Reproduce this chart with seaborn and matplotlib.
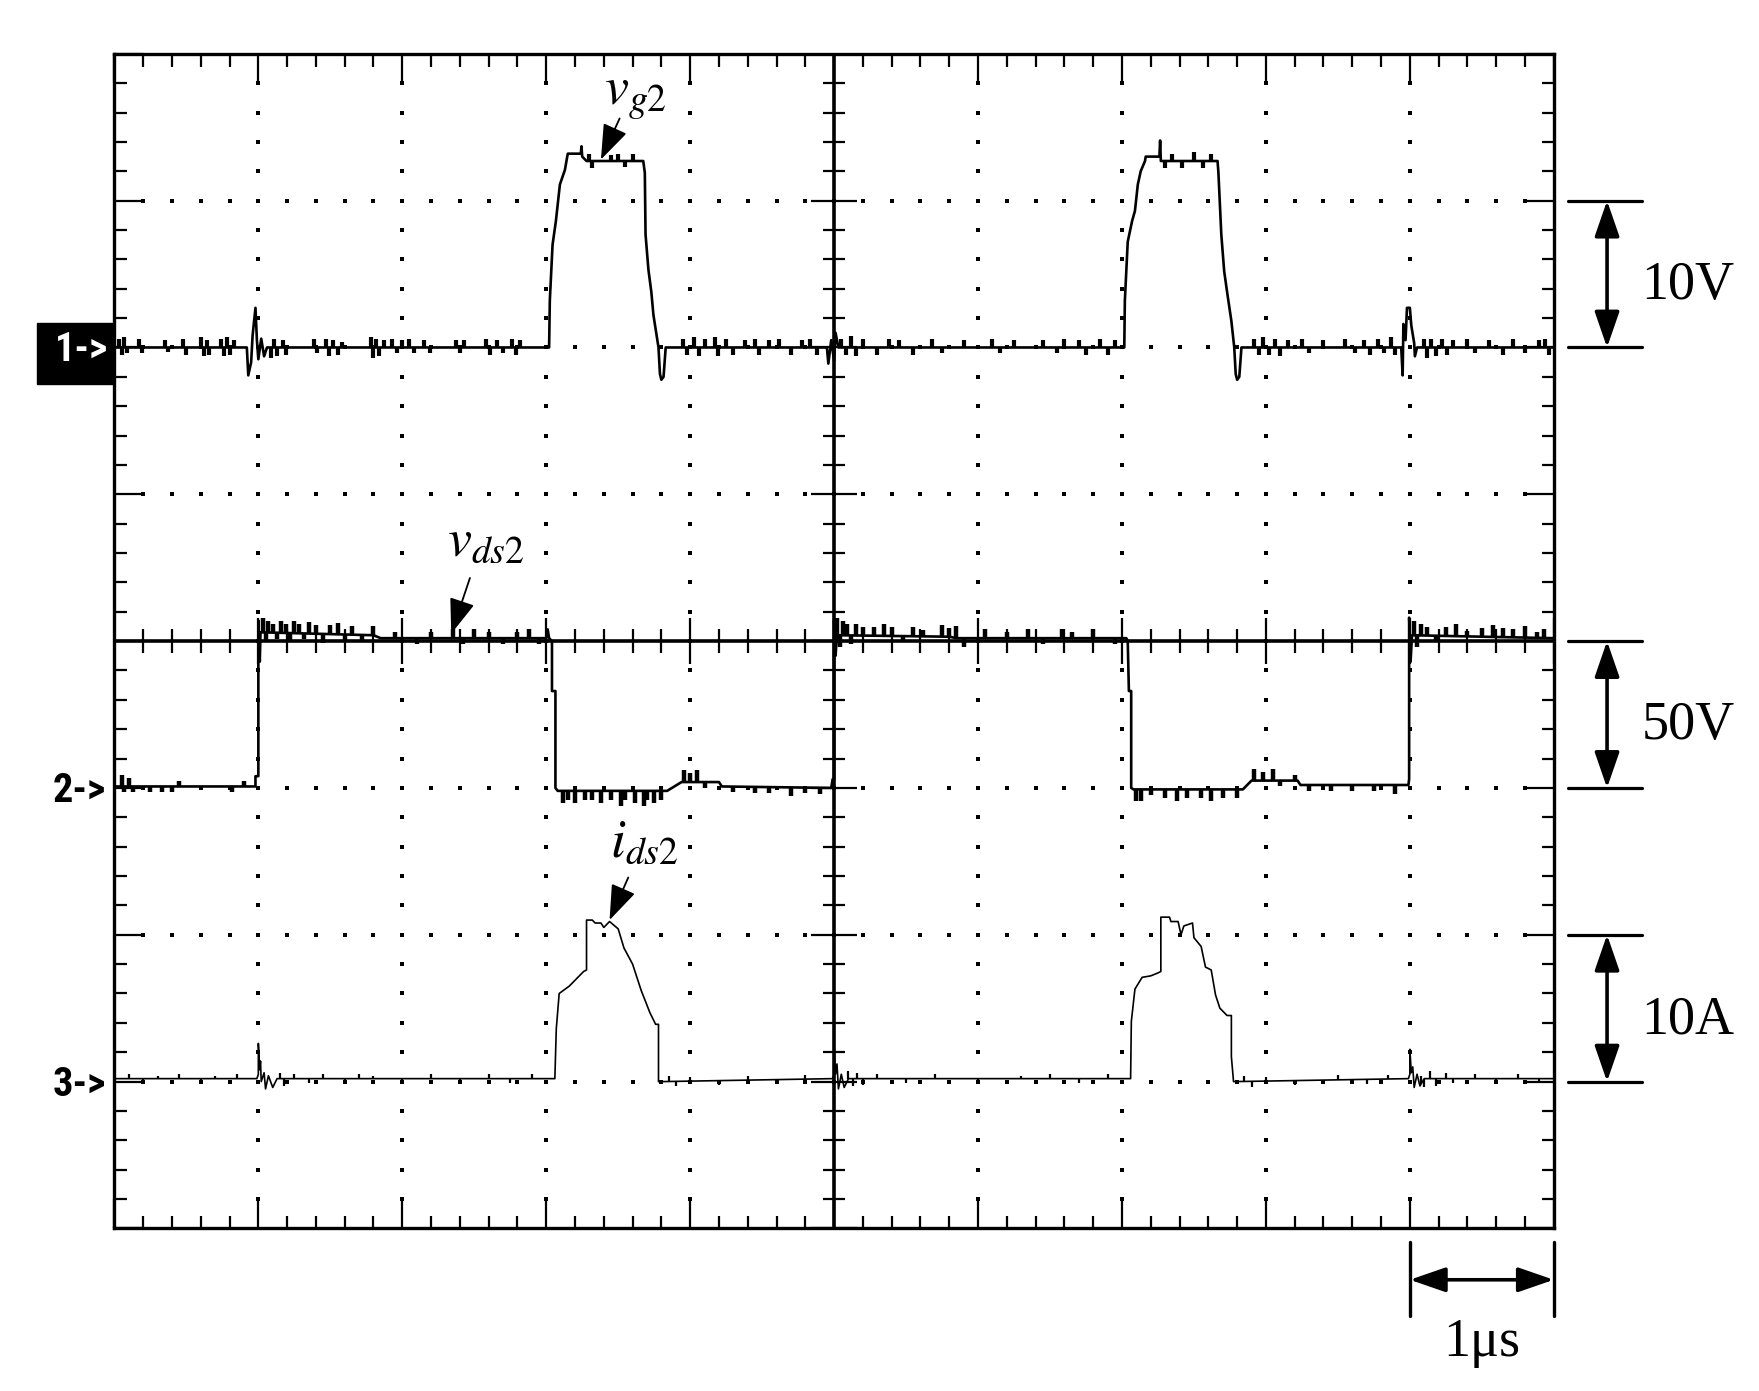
import numpy as np
import pandas as pd
import matplotlib
matplotlib.use("Agg")
import matplotlib.pyplot as plt
from matplotlib.patches import Rectangle
from matplotlib import font_manager
import seaborn as sns

# ---------------- data (time in us, 1 us/div) ----------------
# channel 1: gate voltage v_g2 (V), 10 V/div, ground at division 6
vg_points = [
    (0.00, 0.0), (0.92, 0.0), (0.93, -1.9), (0.95, -1.0), (0.96, 0.8), (0.98, 2.7), (0.99, 0.5),
    (1.00, -0.8), (1.02, 0.6), (1.04, -0.6), (1.06, 0.0),
    (3.02, 0.0), (3.025, 3.2), (3.044, 7.0), (3.067, 8.6), (3.095, 11.1), (3.13, 12.1), (3.146, 13.0),
    (3.15, 13.2), (3.24, 13.2), (3.245, 13.7), (3.25, 13.0), (3.28, 12.7), (3.674, 12.7), (3.685, 11.9),
    (3.69, 7.7), (3.71, 5.3), (3.73, 3.8), (3.745, 2.2), (3.78, 0.0), (3.79, -1.8), (3.80, -2.2),
    (3.815, -2.0), (3.83, 0.0),
    (4.95, 0.0), (4.96, -1.1), (4.98, 0.5), (5.00, -0.9), (5.01, 1.0), (5.03, 0.0),
    (7.016, 0.0), (7.02, 3.2), (7.04, 7.2), (7.07, 8.6), (7.09, 9.3), (7.11, 11.1), (7.13, 12.0),
    (7.16, 12.7), (7.165, 13.0), (7.26, 13.0), (7.265, 14.1), (7.27, 12.7), (7.664, 12.7), (7.67, 11.9),
    (7.69, 7.7), (7.71, 5.2), (7.73, 3.8), (7.76, 1.8), (7.78, 0.0), (7.79, -1.8), (7.80, -2.2),
    (7.815, -2.0), (7.83, 0.0),
    (8.94, 0.0), (8.95, -1.9), (8.955, 1.6), (8.97, 0.5), (8.98, 2.7), (9.00, 2.7), (9.01, 1.5),
    (9.03, 0.3), (9.035, -0.6), (9.05, 0.0), (10.00, 0.0),
]
vg_noise = [
    (0.03, 0.6), (0.05, -0.5), (0.07, 0.7), (0.09, -0.4), (0.17, 0.6), (0.19, -0.4), (0.35, 0.5),
    (0.37, -0.3), (0.48, 0.6), (0.50, -0.5), (0.60, 0.7), (0.62, -0.6), (0.64, 0.5), (0.66, -0.5),
    (0.74, 0.6), (0.76, -0.6), (0.78, 0.7), (0.80, -0.5), (0.83, 0.5),
    (1.09, -0.7), (1.11, 0.6), (1.13, -0.6), (1.17, 0.5), (1.19, -0.5), (1.39, 0.6), (1.41, -0.4),
    (1.47, 0.6), (1.49, -0.6), (1.52, 0.5), (1.55, -0.5), (1.58, 0.4),
    (1.78, 0.7), (1.80, -0.7), (1.82, 0.6), (1.84, -0.6), (1.87, 0.5), (1.93, 0.6), (1.96, -0.4),
    (2.00, 0.5), (2.05, 0.6), (2.08, -0.4), (2.15, 0.5), (2.19, -0.4),
    (2.37, 0.5), (2.40, -0.4), (2.43, 0.5), (2.58, 0.6), (2.61, -0.5), (2.66, 0.5), (2.70, -0.4),
    (2.76, 0.6), (2.79, -0.5), (2.82, 0.5),
    (3.30, 0.5), (3.32, -0.5), (3.45, 0.4), (3.50, 0.5), (3.55, -0.4), (3.60, 0.5),
    (3.95, 0.6), (3.98, -0.5), (4.03, 0.7), (4.06, -0.6), (4.10, 0.6), (4.17, 0.7), (4.19, -0.6),
    (4.25, 0.6), (4.30, -0.5), (4.38, 0.5), (4.45, 0.6), (4.48, -0.5), (4.55, 0.5), (4.62, 0.6),
    (4.70, -0.5), (4.78, 0.5), (4.83, 0.6), (4.88, -0.5),
    (5.05, 0.6), (5.08, -0.5), (5.12, 0.8), (5.15, -0.6), (5.20, 0.6), (5.30, -0.5), (5.38, 0.6),
    (5.45, 0.5), (5.55, -0.5), (5.68, 0.6), (5.75, -0.4), (5.90, 0.5), (6.10, 0.6), (6.15, -0.4),
    (6.25, 0.5), (6.45, 0.5), (6.55, -0.4), (6.60, 0.6), (6.70, 0.5), (6.75, -0.5), (6.85, 0.6),
    (6.90, -0.5), (6.95, 0.5),
    (7.30, -0.5), (7.35, 0.5), (7.42, -0.5), (7.50, 0.6), (7.56, -0.5), (7.62, 0.5),
    (7.92, 0.6), (7.95, -0.5), (7.98, 0.7), (8.02, -0.5), (8.06, 0.6), (8.10, -0.6), (8.15, 0.5),
    (8.25, 0.6), (8.30, -0.4), (8.40, 0.5), (8.55, 0.6), (8.62, -0.4), (8.68, 0.5), (8.72, -0.5),
    (8.78, 0.6), (8.82, -0.4), (8.87, 0.7), (8.90, -0.5),
    (9.10, 0.6), (9.12, -0.7), (9.15, 0.6), (9.18, -0.6), (9.22, 0.6), (9.26, -0.5), (9.30, 0.5),
    (9.40, 0.6), (9.45, -0.4), (9.55, 0.5), (9.65, -0.5), (9.72, 0.6), (9.80, -0.4), (9.90, 0.5),
    (9.94, 0.6), (9.97, -0.5),
]

# channel 2: drain-source voltage v_ds2 (V), 50 V/div, ground at division 3
vds_points = [
    (0.00, 0.5), (0.98, 0.5), (0.98, 4.0), (1.00, 4.0), (1.00, 57.0), (1.01, 43.0), (1.015, 53.0),
    (1.80, 52.0), (1.85, 51.0), (3.00, 51.0), (3.01, 54.0), (3.02, 51.0), (3.04, 50.0), (3.04, 33.0),
    (3.064, 33.0), (3.064, 0.0), (3.08, -1.0), (3.84, -1.0), (3.94, 2.0), (4.20, 2.0), (4.22, 0.5),
    (4.98, 0.0), (4.99, 3.0), (5.00, 3.0), (5.00, 57.0), (5.01, 45.0), (5.02, 52.0), (5.80, 51.5),
    (5.85, 51.0), (7.03, 51.0), (7.04, 50.0), (7.048, 33.0), (7.064, 33.0), (7.064, 0.0), (7.08, -0.5),
    (7.84, -0.5), (7.90, 2.5), (8.22, 2.5), (8.24, 1.0), (8.99, 1.0), (8.995, 3.0), (8.995, 58.0),
    (9.00, 50.0), (9.005, 43.0), (9.015, 52.0), (10.00, 51.0),
]
vds_noise = [
    (0.05, 4), (0.07, -2), (0.10, 3), (0.13, -2), (0.25, -2), (0.33, -2), (0.40, -2), (0.45, 2),
    (0.82, -2), (0.90, 2),
    (1.03, 5), (1.05, -3), (1.07, 4), (1.10, 3), (1.13, -2), (1.16, 4), (1.19, 3), (1.22, -3),
    (1.25, 4), (1.28, 3), (1.32, -2), (1.35, 4), (1.40, 3), (1.45, -3), (1.50, 3), (1.55, 4),
    (1.60, -2), (1.65, 3), (1.72, -2), (1.80, 3), (1.95, 2), (2.10, -2), (2.20, 2), (2.35, 3),
    (2.42, -2), (2.50, 3), (2.60, 2), (2.70, -2), (2.80, 2), (2.88, 3), (2.95, -2),
    (3.12, -4), (3.15, -3), (3.20, -4), (3.27, -3), (3.32, -3), (3.38, -4), (3.45, -3), (3.52, -5),
    (3.55, -3), (3.62, -4), (3.68, -5), (3.70, -3), (3.75, -4), (3.80, -3), (3.96, 4), (4.00, 3),
    (4.05, 4), (4.10, -2), (4.30, -2), (4.45, -2), (4.55, -2), (4.70, -3), (4.80, -2), (4.90, -2),
    (5.02, 6), (5.04, -4), (5.06, 5), (5.09, 4), (5.12, -3), (5.15, 4), (5.20, 3), (5.28, 3),
    (5.35, 4), (5.40, 3), (5.48, -2), (5.55, 3), (5.62, 2), (5.75, 4), (5.80, 3), (5.85, 4),
    (5.90, -3), (6.05, 3), (6.20, 2), (6.35, 3), (6.45, -2), (6.58, 3), (6.65, 2), (6.80, 3),
    (6.95, -2),
    (7.10, -4), (7.13, -4), (7.20, -2), (7.30, -3), (7.38, -4), (7.45, -3), (7.55, -3), (7.62, -4),
    (7.70, -3), (7.80, -3), (7.92, 4), (7.98, 3), (8.05, 4), (8.10, -2), (8.20, 2), (8.30, -2),
    (8.45, -2), (8.60, -2), (8.75, -2), (8.90, -3),
    (9.03, 5), (9.05, -4), (9.08, 4), (9.12, 3), (9.18, -2), (9.25, 3), (9.32, 4), (9.40, 2),
    (9.50, 3), (9.58, 4), (9.65, 3), (9.72, 3), (9.80, 4), (9.88, 2), (9.93, 3),
]

# channel 3: drain current i_ds2 (A), 10 A/div, ground at division 1
ids_points = [
    (0.00, 0.2), (0.99, 0.2), (1.00, 0.5), (1.00, 2.6), (1.01, 0.8), (1.015, 1.4), (1.02, 0.0),
    (1.04, 0.6), (1.05, -0.5), (1.07, 0.4), (1.10, -0.4), (1.13, 0.2),
    (3.06, 0.2), (3.07, 3.6), (3.09, 6.0), (3.16, 6.5), (3.26, 7.5), (3.28, 7.6), (3.28, 11.0),
    (3.32, 11.0), (3.34, 10.8), (3.38, 10.8), (3.40, 10.5), (3.44, 10.9), (3.50, 10.4), (3.54, 9.1),
    (3.60, 8.0), (3.66, 6.2), (3.72, 4.7), (3.76, 3.9), (3.78, 3.9), (3.78, 0.0), (3.82, 0.0),
    (4.99, 0.2), (5.00, 0.5), (5.00, 2.4), (5.01, 0.5), (5.02, 1.2), (5.03, -0.5), (5.05, 0.5),
    (5.07, -0.4), (5.10, 0.2),
    (7.06, 0.2), (7.065, 4.1), (7.09, 6.3), (7.14, 7.1), (7.20, 7.2), (7.25, 7.4), (7.27, 7.5),
    (7.27, 11.2), (7.33, 11.2), (7.34, 10.9), (7.39, 10.9), (7.41, 10.0), (7.43, 10.6), (7.49, 10.8),
    (7.50, 9.8), (7.55, 9.2), (7.58, 7.8), (7.62, 7.6), (7.65, 5.9), (7.68, 5.0), (7.73, 4.5),
    (7.76, 4.5), (7.76, 1.7), (7.775, 0.0), (7.80, 0.0),
    (8.99, 0.2), (9.00, 0.5), (9.00, 2.2), (9.01, 0.6), (9.02, 1.0), (9.03, -0.4), (9.05, 0.5),
    (9.07, -0.3), (9.10, 0.2), (10.00, 0.2),
]
ids_noise = [
    (0.10, 0.3), (0.20, -0.3), (0.30, 0.2), (0.45, 0.3), (0.60, -0.3), (0.70, 0.2), (0.85, 0.3),
    (1.15, 0.4), (1.18, -0.5), (1.25, 0.3), (1.35, -0.3), (1.45, 0.3), (1.60, -0.3), (1.70, 0.3),
    (1.80, 0.2), (2.00, -0.3), (2.20, 0.3), (2.40, -0.2), (2.60, 0.3), (2.75, -0.3), (2.90, 0.3),
    (3.85, 0.4), (3.90, -0.3), (4.00, 0.3), (4.20, -0.3), (4.40, 0.3), (4.60, -0.2), (4.80, 0.3),
    (5.10, 0.5), (5.13, -0.5), (5.16, 0.4), (5.20, -0.4), (5.30, 0.3), (5.50, -0.3), (5.70, 0.3),
    (6.00, -0.3), (6.30, 0.2), (6.50, 0.3), (6.70, -0.3), (6.90, 0.3), (7.85, 0.4), (7.90, -0.4),
    (8.00, 0.3), (8.20, -0.3), (8.50, 0.3), (8.70, -0.3), (8.85, 0.3), (9.08, 0.5), (9.10, -0.6),
    (9.14, 0.5), (9.18, -0.5), (9.25, 0.4), (9.30, -0.3), (9.45, 0.3), (9.60, -0.3), (9.75, 0.3),
    (9.90, -0.3),
]

channel_offsets = [6, 3, 1]          # ground marker positions (divisions)
channel_per_div = [10.0, 50.0, 10.0]  # volts / amps per division
channel_markers = ["1->", "2->", "3->"]
scale_labels = ["10V", "50V", "10A"]
time_per_div_label = "1\u03bcs"
trace_labels = [r"$v_{g2}$", r"$v_{ds2}$", r"$i_{ds2}$"]

# ---------------- style ----------------
sns.set_style("white")
plt.rcParams["mathtext.fontset"] = "stix"
names = {f.name for f in font_manager.fontManager.ttflist}
marker_font = "DejaVu Sans"
marker_size = 25
marker_weight = "bold"
for cand in ["Liberation Sans Narrow", "Roboto Condensed", "Open Sans Condensed", "DejaVu Sans Condensed"]:
    if cand in names:
        marker_font, marker_size = cand, 29
        break
serif = ["Liberation Serif", "DejaVu Serif"]

fig = plt.figure(figsize=(17.59, 13.91), dpi=100)
ax = fig.add_axes([0.06504, 0.1169, 0.8183, 0.8444])
ax.set_xlim(0, 10)
ax.set_ylim(0, 8)

for s in ax.spines.values():
    s.set_linewidth(2.4)
    s.set_color("black")

ax.set_xticks(np.arange(0, 11, 1))
ax.set_yticks(np.arange(0, 9, 1))
ax.set_xticks(np.arange(0, 10.001, 0.2), minor=True)
ax.set_yticks(np.arange(0, 8.001, 0.2), minor=True)
ax.tick_params(which="major", direction="in", length=21, width=1.6, color="black",
               top=True, right=True, bottom=True, left=True,
               labelbottom=False, labelleft=False)
ax.tick_params(which="minor", direction="in", length=9, width=1.6, color="black",
               top=True, right=True, bottom=True, left=True)

# dotted graticule
xminor = np.round(np.arange(0, 10.001, 0.2), 3)
yminor = np.round(np.arange(0, 8.001, 0.2), 3)
dots = []
for gx in [1, 2, 3, 4, 6, 7, 8, 9]:
    for yy in yminor[1:-1]:
        dots.append((gx, yy))
for gy in [1, 2, 3, 5, 6, 7]:
    for xx in xminor[1:-1]:
        dots.append((xx, gy))
dots = np.array(dots)
ax.plot(dots[:, 0], dots[:, 1], ls="none", marker="s", ms=2.5, color="black", mew=0)

# center cross with ticks
ax.axhline(4, color="black", lw=2.6, zorder=3)
ax.axvline(5, color="black", lw=2.6, zorder=3)
is_major_x = np.isclose(xminor, np.round(xminor))
is_major_y = np.isclose(yminor, np.round(yminor))
ax.plot(xminor[~is_major_x], np.full((~is_major_x).sum(), 4.0), ls="none", marker="|", ms=17, mew=1.6, color="black")
ax.plot(xminor[is_major_x], np.full(is_major_x.sum(), 4.0), ls="none", marker="|", ms=33, mew=1.6, color="black")
ax.plot(np.full((~is_major_y).sum(), 5.0), yminor[~is_major_y], ls="none", marker="_", ms=16, mew=1.6, color="black")
ax.plot(np.full(is_major_y.sum(), 5.0), yminor[is_major_y], ls="none", marker="_", ms=33, mew=1.6, color="black")

# ---------------- traces ----------------
channels = [(vg_points, vg_noise), (vds_points, vds_noise), (ids_points, ids_noise)]
line_widths = [1.9, 1.9, 1.2]
noise_widths = [3.0, 3.2, 1.6]
for k, (pts, noise) in enumerate(channels):
    arr = np.array(pts, dtype=float)
    df = pd.DataFrame({"t": arr[:, 0],
                       "y": channel_offsets[k] + arr[:, 1] / channel_per_div[k]})
    sns.lineplot(data=df, x="t", y="y", sort=False, estimator=None, color="black",
                 lw=line_widths[k], ax=ax, legend=False, zorder=5)
    nz = np.array(noise, dtype=float)
    base = np.interp(nz[:, 0], df["t"].values, df["y"].values)
    ax.vlines(nz[:, 0], base, base + nz[:, 1] / channel_per_div[k], colors="black",
              lw=noise_widths[k], zorder=5)
ax.set_xlabel("")
ax.set_ylabel("")

# ---------------- channel markers ----------------
ax.add_patch(Rectangle((-0.54, channel_offsets[0] - 0.25), 0.54, 0.42, transform=ax.transData,
                       clip_on=False, facecolor="black", edgecolor="black", zorder=6))
ax.text(-0.04, channel_offsets[0] - 0.02, channel_markers[0], color="white", ha="right", va="center",
        family=marker_font, fontsize=marker_size, weight=marker_weight, clip_on=False, zorder=7)
for k in (1, 2):
    ax.text(-0.06, channel_offsets[k] - 0.02, channel_markers[k], color="black", ha="right", va="center",
            family=marker_font, fontsize=marker_size, weight=marker_weight, clip_on=False)

# ---------------- trace labels with arrows ----------------
label_pos = [(3.40, 7.655), (2.31, 4.58), (3.44, 2.53)]
arrow_from = [(3.51, 7.56), (2.47, 4.43), (3.57, 2.39)]
arrow_to = [(3.38, 7.28), (2.34, 4.05), (3.44, 2.10)]
for k in range(3):
    ax.text(label_pos[k][0], label_pos[k][1], trace_labels[k], fontsize=39, ha="left",
            va="baseline", color="black")
    ax.annotate("", xy=arrow_to[k], xytext=arrow_from[k],
                arrowprops=dict(arrowstyle="-|>,head_length=0.55,head_width=0.2", lw=1.3,
                                color="black", mutation_scale=40, shrinkA=0, shrinkB=0))

# ---------------- scale bars ----------------
bar_style = "<|-|>,head_length=0.55,head_width=0.19"
for k in range(3):
    lo = channel_offsets[k]
    hi = channel_offsets[k] + 1
    for yv in (lo, hi):
        ax.plot([10.10, 10.61], [yv, yv], color="black", lw=2.3, clip_on=False)
    ax.annotate("", xy=(10.37, lo), xytext=(10.37, hi), annotation_clip=False,
                arrowprops=dict(arrowstyle=bar_style, lw=2.6, color="black",
                                mutation_scale=40, shrinkA=0, shrinkB=0))
    ax.text(10.61, (lo + hi) / 2 - 0.17, scale_labels[k], family=serif, fontsize=39,
            ha="left", va="baseline", color="black", clip_on=False)

for xv in (9, 10):
    ax.plot([xv, xv], [-0.09, -0.60], color="black", lw=2.4, clip_on=False)
ax.annotate("", xy=(9.0, -0.35), xytext=(10.0, -0.35), annotation_clip=False,
            arrowprops=dict(arrowstyle=bar_style, lw=2.6, color="black",
                            mutation_scale=40, shrinkA=0, shrinkB=0))
ax.text(9.5, -0.87, time_per_div_label, family=serif, fontsize=39, ha="center",
        va="baseline", color="black", clip_on=False)

fig.savefig("out.png", dpi=100, facecolor="white")
